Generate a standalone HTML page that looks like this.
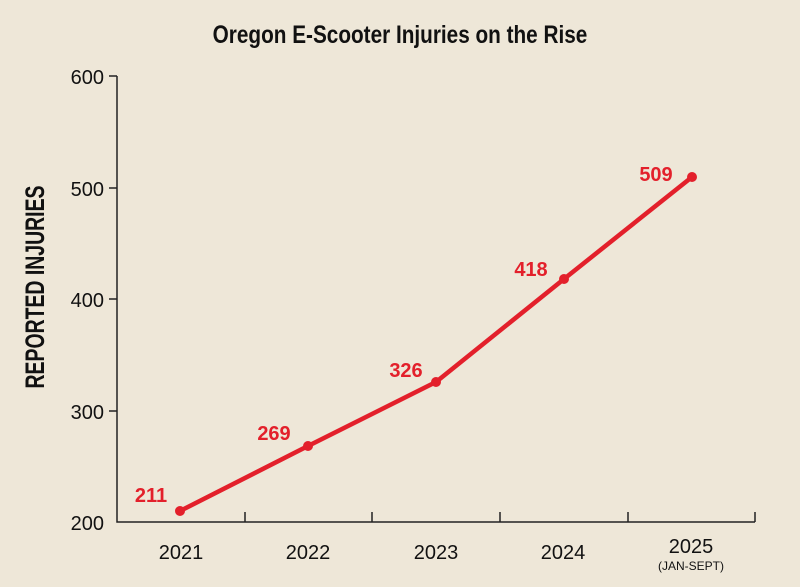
<!DOCTYPE html>
<html><head><meta charset="utf-8"><style>
body{margin:0;background:#eee7d8;}
svg{display:block}
</style></head><body>
<svg width="800" height="587" viewBox="0 0 800 587" xmlns="http://www.w3.org/2000/svg">
<rect width="800" height="587" fill="#eee7d8"/>
<text x="400" y="43" text-anchor="middle" font-family="Liberation Sans, sans-serif" font-weight="bold" font-size="25" fill="#111" transform="translate(400,0) scale(0.83,1) translate(-400,0)">Oregon E-Scooter Injuries on the Rise</text>
<g stroke="#222" stroke-width="1.5" fill="none">
<path d="M117 76 V522 H755"/>
<path d="M109 76 H117 M109 188 H117 M109 299 H117 M109 411 H117"/>
<path d="M245 512 V522 M372 512 V522 M500 512 V522 M628 512 V522 M755 512 V522"/>
</g>
<g font-family="Liberation Sans, sans-serif" font-size="20" fill="#111" text-anchor="end">
<text x="104" y="84">600</text>
<text x="104" y="196">500</text>
<text x="104" y="307">400</text>
<text x="104" y="419">300</text>
<text x="104" y="530">200</text>
</g>
<g font-family="Liberation Sans, sans-serif" font-size="20" fill="#111" text-anchor="middle">
<text x="181" y="559">2021</text>
<text x="308" y="559">2022</text>
<text x="436" y="559">2023</text>
<text x="563" y="559">2024</text>
<text x="691" y="553">2025</text>
<text x="691" y="570" font-size="12">(JAN-SEPT)</text>
</g>
<text transform="translate(44,287) rotate(-90) scale(0.72,1)" text-anchor="middle" font-family="Liberation Sans, sans-serif" font-weight="bold" font-size="27" fill="#111">REPORTED INJURIES</text>
<polyline points="180,511 308,446 436,382 564,279 692,177" fill="none" stroke="#e3202b" stroke-width="4.5" stroke-linejoin="round"/>
<g fill="#e3202b">
<circle cx="180" cy="511" r="5"/><circle cx="308" cy="446" r="5"/><circle cx="436" cy="382" r="5"/><circle cx="564" cy="279" r="5"/><circle cx="692" cy="177" r="5"/>
</g>
<g font-family="Liberation Sans, sans-serif" font-weight="bold" font-size="20" fill="#e3202b" text-anchor="middle">
<text x="151" y="502">211</text>
<text x="274" y="440">269</text>
<text x="406" y="377">326</text>
<text x="531" y="276">418</text>
<text x="656" y="181">509</text>
</g>
</svg>
</body></html>
